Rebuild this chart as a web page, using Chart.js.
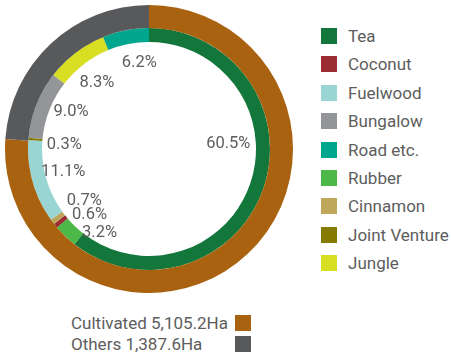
<!DOCTYPE html>
<html>
<head>
<meta charset="utf-8">
<script src="https://cdn.jsdelivr.net/npm/chart.js@4"></script>
<style>
  body { margin: 0; width: 451px; height: 354px; background: #fff; font-family: Roboto, sans-serif; color: #5d5d5d; position: relative; overflow: hidden; }
  #wrap { position: absolute; left: 0; top: 0; width: 298px; height: 298px; }
  #legend { position: absolute; left: 321px; top: 28px; }
  #legend div { height: 28.4px; display: flex; align-items: flex-start; font-size: 17px; white-space: nowrap; }
  #legend span.box { width: 16px; height: 16px; margin-right: 11px; flex: none; }
  #legend span.txt { line-height: 16px; }
  #areas { position: absolute; left: 71px; top: 312px; width: 180px; }
  #areas div { height: 21.5px; display: flex; justify-content: space-between; align-items: center; font-size: 17px; white-space: nowrap; }
  #areas span.box { width: 16px; height: 16px; flex: none; }
</style>
</head>
<body>
<div id="wrap"><canvas id="chart" width="298" height="298"></canvas></div>
<div id="legend"></div>
<div id="areas"></div>
<script>
// inner ring, clockwise from the top
const landUse = ['Tea', 'Rubber', 'Coconut', 'Cinnamon', 'Fuelwood', 'Joint Venture', 'Bungalow', 'Jungle', 'Road etc.'];
const landShare = [60.5, 3.2, 0.6, 0.7, 11.1, 0.3, 9.0, 8.3, 6.2];
const legendOrder = ['Tea', 'Coconut', 'Fuelwood', 'Bungalow', 'Road etc.', 'Rubber', 'Cinnamon', 'Joint Venture', 'Jungle'];

// outer ring
const areaType = ['Cultivated', 'Others'];
const areaHa = [5105.2, 1387.6];
const areaShare = [76.1, 23.9];

const landColors = {
    'Tea': '#13763b',
    'Rubber': '#4cb848',
    'Coconut': '#9b2c33',
    'Cinnamon': '#bea75a',
    'Fuelwood': '#99d6d3',
    'Joint Venture': '#857b00',
    'Bungalow': '#939598',
    'Jungle': '#d8de22',
    'Road etc.': '#00a78e'
};
const areaColors = ['#a9620f', '#58595b'];

// small nudges so the labels sit where the original put them
const labelNudge = {
    'Tea': [-2, -33], 'Rubber': [10, 22], 'Coconut': [7, 11], 'Cinnamon': [4, 0],
    'Fuelwood': [-3, 0], 'Joint Venture': [1, 3], 'Bungalow': [2, -6], 'Jungle': [0, 2], 'Road etc.': [7, -2]
};

const pctLabels = {
    id: 'pctLabels',
    afterDatasetsDraw(chart) {
        const ctx = chart.ctx;
        const meta = chart.getDatasetMeta(1);
        ctx.save();
        ctx.font = '16.5px Roboto';
        ctx.fillStyle = '#5d5d5d';
        ctx.textAlign = 'center';
        ctx.textBaseline = 'middle';
        meta.data.forEach((arc, i) => {
            const p = arc.getProps(['x', 'y', 'startAngle', 'endAngle', 'innerRadius']);
            const mid = (p.startAngle + p.endAngle) / 2;
            const r = p.innerRadius - 21;
            const n = labelNudge[landUse[i]] || [0, 0];
            ctx.fillText(landShare[i].toFixed(1) + '%', p.x + r * Math.cos(mid) + n[0], p.y + r * Math.sin(mid) + n[1]);
        });
        ctx.restore();
    }
};

new Chart(document.getElementById('chart'), {
    type: 'doughnut',
    data: {
        labels: landUse,
        datasets: [
            { data: areaShare, backgroundColor: areaColors, borderWidth: 0, weight: 23 },
            { data: landShare, backgroundColor: landUse.map(l => landColors[l]), borderWidth: 0, weight: 14 }
        ]
    },
    options: {
        responsive: false,
        animation: false,
        cutout: '74.3%',
        layout: { padding: 5 },
        plugins: { legend: { display: false }, tooltip: { enabled: false } }
    },
    plugins: [pctLabels]
});

// right legend
const legend = document.getElementById('legend');
legendOrder.forEach(name => {
    const row = document.createElement('div');
    row.innerHTML = `<span class="box" style="background:${landColors[name]}"></span><span class="txt">${name}</span>`;
    legend.appendChild(row);
});

// bottom legend
const areas = document.getElementById('areas');
areaType.forEach((name, i) => {
    const row = document.createElement('div');
    const ha = areaHa[i].toLocaleString('en-US', { minimumFractionDigits: 1, maximumFractionDigits: 1 });
    row.innerHTML = `<span>${name} ${ha}Ha</span><span class="box" style="background:${areaColors[i]}"></span>`;
    areas.appendChild(row);
});
</script>
</body>
</html>
